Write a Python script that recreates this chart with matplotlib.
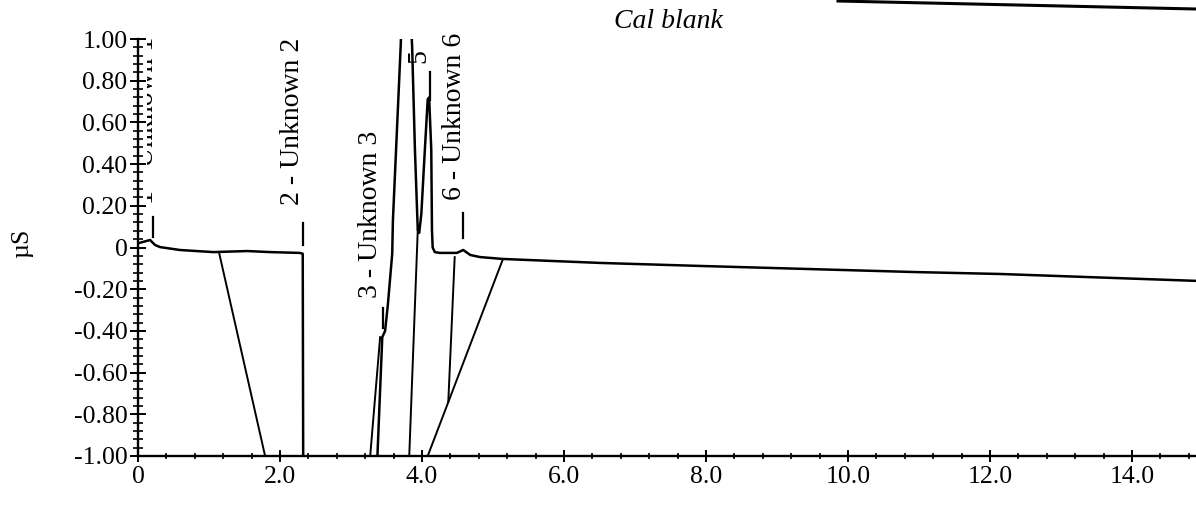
import matplotlib
matplotlib.use("Agg")
import matplotlib.pyplot as plt
from matplotlib.patches import Rectangle
from matplotlib.lines import Line2D
from matplotlib.ticker import FixedLocator, MultipleLocator
import numpy as np

# ---------------- data ----------------
time = [0.00, 0.17, 0.24, 0.31, 0.59, 1.06, 1.54, 1.86, 2.28, 2.32, 2.33,
        3.30, 3.44, 3.48, 3.52, 3.58, 3.59, 3.70, 3.76, 3.86, 3.90, 3.94,
        3.96, 3.99, 4.04, 4.08, 4.10, 4.13, 4.14, 4.15, 4.18, 4.25, 4.49,
        4.58, 4.68, 4.82, 5.14, 6.51, 7.97, 10.97, 12.14, 14.90]
signal = [0.020, 0.036, 0.012, 0.002, -0.012, -0.022, -0.017, -0.022, -0.026, -0.030, -1.60,
          -1.60, -0.43, -0.40, -0.27, -0.03, 0.13, 0.97, 1.60, 0.97, 0.47, 0.084,
          0.070, 0.16, 0.47, 0.71, 0.72, 0.47, 0.084, 0.000, -0.022, -0.026, -0.026,
          -0.012, -0.036, -0.046, -0.055, -0.074, -0.089, -0.118, -0.127, -0.160]

# integration / delimiter lines
seg_x0 = [1.14, 3.94, 3.41, 5.14, 4.46]
seg_y0 = [-0.022, 0.084, -0.43, -0.055, -0.046]
seg_x1 = [1.79, 3.82, 3.27, 4.08, 4.37]
seg_y1 = [-1.00, -1.00, -1.00, -1.00, -0.74]

# peak annotations (label 5 is only visible as "5" in the source)
peak_labels = ["1 - Unknown 1", "2 - Unknown 2", "3 - Unknown 3",
               "5", "6 - Unknown 6"]
mark_x = [0.21, 2.32, 3.45, 4.11, 4.58]
mark_y0 = [0.050, 0.012, -0.386, 0.707, 0.046]
mark_y1 = [0.146, 0.117, -0.290, 0.840, 0.165]
text_x = [0.12, 2.18, 3.28, 3.96, 4.46]
text_y = [0.21, 0.204, -0.24, 0.885, 0.228]
text_clip_left = [0.13, 0.0, 0.0, 0.0, 0.0]

xtick_vals = [0, 2, 4, 6, 8, 10, 12, 14]
xtick_labels = ["0", "2.0", "4.0", "6.0", "8.0", "10.0", "12.0", "14.0"]
ytick_vals = [-1.0, -0.8, -0.6, -0.4, -0.2, 0.0, 0.2, 0.4, 0.6, 0.8, 1.0]
ytick_labels = ["-1.00", "-0.80", "-0.60", "-0.40", "-0.20", "0",
                "0.20", "0.40", "0.60", "0.80", "1.00"]

title_text = "Cal blank"
ylabel_text = "µS"

# ---------------- figure ----------------
plt.rcParams["font.family"] = ["Liberation Serif", "DejaVu Serif"]

W, H = 1196, 522
fig = plt.figure(figsize=(W / 100, H / 100), dpi=100)
ax = fig.add_axes([138 / W, 66 / H, 1 - 138 / W, 417 / H])
ax.set_xlim(0, 14.90)
ax.set_ylim(-1.0, 1.0)
ax.patch.set_visible(False)

for s in ("top", "right"):
    ax.spines[s].set_visible(False)
for s in ("left", "bottom"):
    ax.spines[s].set_linewidth(1.7)
    ax.spines[s].set_color("black")

ax.plot(time, signal, color="black", lw=1.8, solid_joinstyle="round")

for x0, y0, x1, y1 in zip(seg_x0, seg_y0, seg_x1, seg_y1):
    ax.plot([x0, x1], [y0, y1], color="black", lw=1.4)

xmax = ax.get_xlim()[1]
for lab, mx, my0, my1, tx, ty, cl in zip(peak_labels, mark_x, mark_y0, mark_y1,
                                         text_x, text_y, text_clip_left):
    ax.plot([mx, mx], [my0, my1], color="black", lw=1.6)
    t = ax.text(tx, ty, lab, rotation=90, ha="center", va="bottom",
                fontsize=20, color="black", clip_on=True)
    t.set_clip_path(Rectangle((cl, -1.0), xmax - cl, 2.2, transform=ax.transData))

ax.xaxis.set_major_locator(FixedLocator(xtick_vals))
ax.set_xticklabels(xtick_labels)
ax.xaxis.set_minor_locator(MultipleLocator(0.4))
ax.yaxis.set_major_locator(FixedLocator(ytick_vals))
ax.set_yticklabels(ytick_labels)
ax.yaxis.set_minor_locator(MultipleLocator(0.04))

ax.tick_params(axis="both", which="major", direction="inout", labelsize=18.5,
               width=1.4, colors="black")
ax.tick_params(axis="x", which="major", length=9, pad=3)
ax.tick_params(axis="y", which="major", length=12, pad=1.5)
ax.tick_params(axis="x", which="minor", direction="inout", length=5, width=1.2)
ax.tick_params(axis="y", which="minor", direction="inout", length=7, width=1.2)

fig.text(22 / W, 1 - 243 / H, ylabel_text, rotation=90, ha="center", va="center",
         fontsize=18.5)
fig.text(668 / W, 1 - 22 / H, title_text, style="italic", ha="center", va="center",
         fontsize=20)

# scan artifact line at top right
fig.add_artist(Line2D([838 / W, 1.0], [1 - 1 / H, 1 - 9 / H], transform=fig.transFigure,
                      color="black", lw=2.2))

fig.savefig("out.png", dpi=100)
